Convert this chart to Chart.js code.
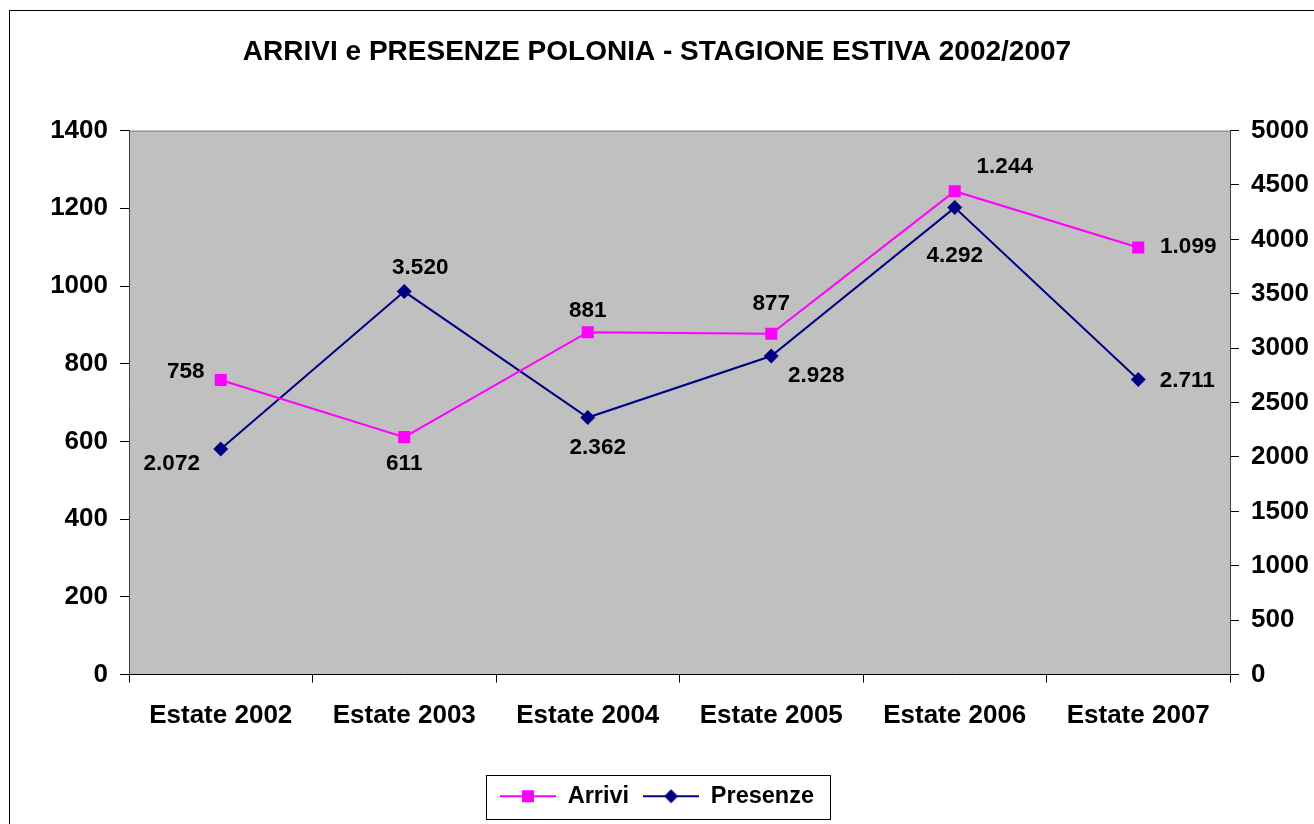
<!DOCTYPE html>
<html>
<head>
<meta charset="utf-8">
<script src="https://cdn.jsdelivr.net/npm/chart.js@4.4.1/dist/chart.umd.min.js"></script>
<style>
  html, body { margin: 0; padding: 0; background: #fff; }
  #wrap { width: 1314px; height: 824px; position: relative; }
</style>
</head>
<body>
<div id="wrap"><canvas id="chart"></canvas></div>
<script>
// Dati
const categorie = ['Estate 2002', 'Estate 2003', 'Estate 2004', 'Estate 2005', 'Estate 2006', 'Estate 2007'];
const arrivi = [758, 611, 881, 877, 1244, 1099];
const presenze = [2072, 3520, 2362, 2928, 4292, 2711];
const tickSinistra = [0, 200, 400, 600, 800, 1000, 1200, 1400];
const tickDestra = [0, 500, 1000, 1500, 2000, 2500, 3000, 3500, 4000, 4500, 5000];

// posizione etichette rispetto al punto (solo stile)
const offArrivi = [[-35, -8], [0, 27], [0, -21], [0, -30], [50, -24], [50, -1]];
const offPresenze = [[-49, 15], [16, -24], [10, 30], [45, 20], [0, 48], [49, 1]];

const FONT = '"Liberation Sans", Arial, sans-serif';
const MAGENTA = '#ff00ff';
const NAVY = '#000080';

// formato italiano con punto delle migliaia
const fmt = v => String(v).replace(/\B(?=(\d{3})+(?!\d))/g, '.');

// icona legenda: linea + marcatore
function legendIcon(color, shape) {
  const c = document.createElement('canvas');
  c.width = 56; c.height = 18;
  const g = c.getContext('2d');
  g.strokeStyle = color;
  g.lineWidth = 2;
  g.beginPath(); g.moveTo(0, 9); g.lineTo(56, 9); g.stroke();
  g.fillStyle = color;
  g.beginPath();
  if (shape === 'rect') {
    g.rect(22, 3, 12, 12);
  } else {
    g.moveTo(28, 2); g.lineTo(35, 9); g.lineTo(28, 16); g.lineTo(21, 9); g.closePath();
  }
  g.fill();
  return c;
}
const icons = [legendIcon(MAGENTA, 'rect'), legendIcon(NAVY, 'diamond')];

const sfondoPlugin = {
  id: 'sfondo',
  beforeDraw(chart) {
    const { ctx, chartArea: a } = chart;
    ctx.save();
    ctx.strokeStyle = '#000';
    ctx.lineWidth = 1;
    ctx.strokeRect(9.5, 10.5, 1320, 830);
    ctx.fillStyle = '#c0c0c0';
    ctx.fillRect(a.left, a.top, a.right - a.left, a.bottom - a.top);
    ctx.strokeStyle = '#808080';
    ctx.beginPath();
    ctx.moveTo(a.left, a.top + 0.5); ctx.lineTo(a.right, a.top + 0.5);
    ctx.stroke();
    ctx.restore();
  },
  afterDraw(chart) {
    const lg = chart.legend;
    if (!lg || !lg.legendHitBoxes) return;
    const boxes = lg.legendHitBoxes;
    const l = Math.min(...boxes.map(b => b.left)) - 14;
    const r = Math.max(...boxes.map(b => b.left + b.width)) + 16;
    const t = Math.min(...boxes.map(b => b.top)) - 10;
    const btm = Math.max(...boxes.map(b => b.top + b.height)) + 10;
    const ctx = chart.ctx;
    ctx.save();
    ctx.strokeStyle = '#000';
    ctx.lineWidth = 1;
    ctx.strokeRect(Math.round(l) + 0.5, Math.round(t) + 0.5, Math.round(r - l), Math.round(btm - t));
    ctx.restore();
  }
};

const etichettePlugin = {
  id: 'etichette',
  afterDatasetsDraw(chart) {
    const ctx = chart.ctx;
    const offs = [offArrivi, offPresenze];
    ctx.save();
    ctx.font = 'bold 22.5px ' + FONT;
    ctx.fillStyle = '#000';
    ctx.textAlign = 'center';
    ctx.textBaseline = 'middle';
    chart.data.datasets.forEach((ds, i) => {
      chart.getDatasetMeta(i).data.forEach((pt, j) => {
        const o = offs[i][j];
        ctx.fillText(fmt(ds.data[j]), pt.x + o[0], pt.y + o[1]);
      });
    });
    ctx.restore();
  }
};

new Chart(document.getElementById('chart'), {
  type: 'line',
  data: {
    labels: categorie,
    datasets: [
      {
        label: 'Arrivi',
        data: arrivi,
        yAxisID: 'y',
        borderColor: MAGENTA,
        backgroundColor: MAGENTA,
        borderWidth: 2,
        pointStyle: 'rect',
        pointRadius: 8.5,
        pointHoverRadius: 8.5,
        pointBorderWidth: 0,
        tension: 0
      },
      {
        label: 'Presenze',
        data: presenze,
        yAxisID: 'y1',
        borderColor: NAVY,
        backgroundColor: NAVY,
        borderWidth: 2,
        pointStyle: 'rectRot',
        pointRadius: 7.5,
        pointHoverRadius: 7.5,
        pointBorderWidth: 0,
        tension: 0
      }
    ]
  },
  options: {
    responsive: true,
    maintainAspectRatio: false,
    animation: false,
    layout: { padding: { left: 0, right: 0, top: 0, bottom: 6 } },
    plugins: {
      title: {
        display: true,
        text: 'ARRIVI e PRESENZE POLONIA - STAGIONE ESTIVA 2002/2007',
        color: '#000',
        font: { family: FONT, size: 28, weight: 'bold' },
        padding: { top: 35, bottom: 62 }
      },
      legend: {
        position: 'bottom',
        labels: {
          color: '#000',
          font: { family: FONT, size: 23.5, weight: 'bold' },
          usePointStyle: true,
          pointStyleWidth: 56,
          padding: 14,
          generateLabels(chart) {
            const items = Chart.defaults.plugins.legend.labels.generateLabels(chart);
            items.forEach((it, i) => { it.pointStyle = icons[i]; });
            return items;
          }
        }
      },
      tooltip: { enabled: false }
    },
    scales: {
      x: {
        offset: true,
        grid: { offset: true, drawOnChartArea: false, drawTicks: true, tickLength: 8, color: '#000' },
        border: { color: '#000', width: 1 },
        ticks: {
          color: '#000',
          font: { family: FONT, size: 26, weight: 'bold' },
          padding: 18,
          maxRotation: 0
        },
        afterFit(s) { s.height = 96; }
      },
      y: {
        position: 'left',
        min: 0,
        max: 1400,
        afterBuildTicks(s) { s.ticks = tickSinistra.map(v => ({ value: v })); },
        grid: { drawOnChartArea: false, drawTicks: true, tickLength: 9, color: '#000' },
        border: { color: '#404040', width: 1 },
        ticks: {
          color: '#000',
          font: { family: FONT, size: 26, weight: 'bold' },
          padding: 12,
          callback: v => String(v)
        },
        afterFit(s) { s.width = 129; }
      },
      y1: {
        position: 'right',
        min: 0,
        max: 5000,
        afterBuildTicks(s) { s.ticks = tickDestra.map(v => ({ value: v })); },
        grid: { drawOnChartArea: false, drawTicks: true, tickLength: 9, color: '#000' },
        border: { color: '#404040', width: 1 },
        ticks: {
          color: '#000',
          font: { family: FONT, size: 26, weight: 'bold' },
          padding: 12,
          callback: v => String(v)
        },
        afterFit(s) { s.width = 84; }
      }
    }
  },
  plugins: [sfondoPlugin, etichettePlugin]
});
</script>
</body>
</html>
